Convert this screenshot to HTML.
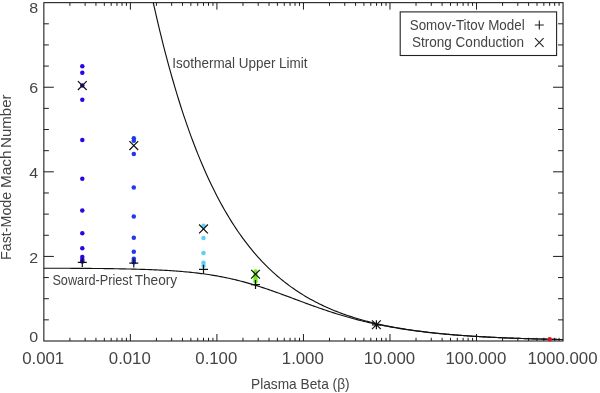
<!DOCTYPE html><html><head><meta charset="utf-8"><title>Plot</title>
<style>html,body{margin:0;padding:0;background:#fff}svg{display:block}text{font-family:"Liberation Sans",sans-serif;fill:#444}</style></head><body>
<svg width="600" height="393" viewBox="0 0 600 393">
<rect width="600" height="393" fill="#fff"/>
<defs><clipPath id="c"><rect x="43.85" y="2.65" width="519.20" height="338.35"/></clipPath></defs>
<path d="M69.90 341.00v-3.2M69.90 2.65v3.2M85.14 341.00v-3.2M85.14 2.65v3.2M95.95 341.00v-3.2M95.95 2.65v3.2M104.33 341.00v-3.2M104.33 2.65v3.2M111.19 341.00v-3.2M111.19 2.65v3.2M116.98 341.00v-3.2M116.98 2.65v3.2M122.00 341.00v-3.2M122.00 2.65v3.2M126.42 341.00v-3.2M126.42 2.65v3.2M130.38 341.00v-7M130.38 2.65v7M156.43 341.00v-3.2M156.43 2.65v3.2M171.67 341.00v-3.2M171.67 2.65v3.2M182.48 341.00v-3.2M182.48 2.65v3.2M190.87 341.00v-3.2M190.87 2.65v3.2M197.72 341.00v-3.2M197.72 2.65v3.2M203.51 341.00v-3.2M203.51 2.65v3.2M208.53 341.00v-3.2M208.53 2.65v3.2M212.96 341.00v-3.2M212.96 2.65v3.2M216.92 341.00v-7M216.92 2.65v7M242.97 341.00v-3.2M242.97 2.65v3.2M258.20 341.00v-3.2M258.20 2.65v3.2M269.01 341.00v-3.2M269.01 2.65v3.2M277.40 341.00v-3.2M277.40 2.65v3.2M284.25 341.00v-3.2M284.25 2.65v3.2M290.05 341.00v-3.2M290.05 2.65v3.2M295.06 341.00v-3.2M295.06 2.65v3.2M299.49 341.00v-3.2M299.49 2.65v3.2M303.45 341.00v-7M303.45 2.65v7M329.50 341.00v-3.2M329.50 2.65v3.2M344.74 341.00v-3.2M344.74 2.65v3.2M355.55 341.00v-3.2M355.55 2.65v3.2M363.93 341.00v-3.2M363.93 2.65v3.2M370.79 341.00v-3.2M370.79 2.65v3.2M376.58 341.00v-3.2M376.58 2.65v3.2M381.60 341.00v-3.2M381.60 2.65v3.2M386.02 341.00v-3.2M386.02 2.65v3.2M389.98 341.00v-7M389.98 2.65v7M416.03 341.00v-3.2M416.03 2.65v3.2M431.27 341.00v-3.2M431.27 2.65v3.2M442.08 341.00v-3.2M442.08 2.65v3.2M450.47 341.00v-3.2M450.47 2.65v3.2M457.32 341.00v-3.2M457.32 2.65v3.2M463.11 341.00v-3.2M463.11 2.65v3.2M468.13 341.00v-3.2M468.13 2.65v3.2M472.56 341.00v-3.2M472.56 2.65v3.2M476.52 341.00v-7M476.52 2.65v7M502.57 341.00v-3.2M502.57 2.65v3.2M517.80 341.00v-3.2M517.80 2.65v3.2M528.61 341.00v-3.2M528.61 2.65v3.2M537.00 341.00v-3.2M537.00 2.65v3.2M543.85 341.00v-3.2M543.85 2.65v3.2M549.65 341.00v-3.2M549.65 2.65v3.2M554.66 341.00v-3.2M554.66 2.65v3.2M559.09 341.00v-3.2M559.09 2.65v3.2M43.85 319.85h5M563.05 319.85h-5M43.85 298.71h5M563.05 298.71h-5M43.85 277.56h5M563.05 277.56h-5M43.85 256.41h10M563.05 256.41h-10M43.85 235.27h5M563.05 235.27h-5M43.85 214.12h5M563.05 214.12h-5M43.85 192.97h5M563.05 192.97h-5M43.85 171.82h10M563.05 171.82h-10M43.85 150.68h5M563.05 150.68h-5M43.85 129.53h5M563.05 129.53h-5M43.85 108.38h5M563.05 108.38h-5M43.85 87.24h10M563.05 87.24h-10M43.85 66.09h5M563.05 66.09h-5M43.85 44.94h5M563.05 44.94h-5M43.85 23.80h5M563.05 23.80h-5" stroke="#1c1c1c" stroke-width="1" fill="none"/>
<rect x="43.85" y="2.65" width="519.20" height="338.35" fill="none" stroke="#1e1e1e" stroke-width="1.1"/>
<g clip-path="url(#c)" fill="none" stroke="#111" stroke-width="1.15">
<path d="M145.96 -31.88 L147.69 -23.39 L149.42 -15.10 L151.15 -6.99 L152.88 0.93 L154.61 8.67 L156.34 16.24 L158.07 23.63 L159.80 30.85 L161.54 37.91 L163.27 44.81 L165.00 51.55 L166.73 58.14 L168.46 64.58 L170.19 70.87 L171.92 77.02 L173.65 83.03 L175.38 88.90 L177.11 94.64 L178.84 100.25 L180.57 105.73 L182.30 111.09 L184.03 116.32 L185.76 121.43 L187.50 126.43 L189.23 131.32 L190.96 136.09 L192.69 140.75 L194.42 145.31 L196.15 149.77 L197.88 154.12 L199.61 158.37 L201.34 162.53 L203.07 166.59 L204.80 170.56 L206.53 174.44 L208.26 178.23 L209.99 181.94 L211.72 185.56 L213.46 189.10 L215.19 192.55 L216.92 195.93 L218.65 199.24 L220.38 202.46 L222.11 205.62 L223.84 208.70 L225.57 211.71 L227.30 214.65 L229.03 217.53 L230.76 220.34 L232.49 223.09 L234.22 225.77 L235.95 228.39 L237.68 230.96 L239.42 233.46 L241.15 235.91 L242.88 238.30 L244.61 240.64 L246.34 242.92 L248.07 245.16 L249.80 247.34 L251.53 249.47 L253.26 251.55 L254.99 253.59 L256.72 255.58 L258.45 257.52 L260.18 259.42 L261.91 261.28 L263.64 263.09 L265.38 264.87 L267.11 266.60 L268.84 268.29 L270.57 269.95 L272.30 271.57 L274.03 273.15 L275.76 274.69 L277.49 276.20 L279.22 277.68 L280.95 279.12 L282.68 280.53 L284.41 281.90 L286.14 283.25 L287.87 284.56 L289.60 285.85 L291.34 287.10 L293.07 288.33 L294.80 289.53 L296.53 290.70 L298.26 291.85 L299.99 292.96 L301.72 294.06 L303.45 295.13 L305.18 296.17 L306.91 297.19 L308.64 298.19 L310.37 299.16 L312.10 300.11 L313.83 301.05 L315.56 301.95 L317.30 302.84 L319.03 303.71 L320.76 304.56 L322.49 305.39 L324.22 306.20 L325.95 306.99 L327.68 307.77 L329.41 308.52 L331.14 309.26 L332.87 309.99 L334.60 310.69 L336.33 311.38 L338.06 312.06 L339.79 312.71 L341.52 313.36 L343.26 313.99 L344.99 314.60 L346.72 315.20 L348.45 315.79 L350.18 316.36 L351.91 316.92 L353.64 317.47 L355.37 318.01 L357.10 318.53 L358.83 319.04 L360.56 319.54 L362.29 320.03 L364.02 320.51 L365.75 320.98 L367.48 321.43 L369.22 321.88 L370.95 322.31 L372.68 322.74 L374.41 323.15 L376.14 323.56 L377.87 323.96 L379.60 324.34 L381.33 324.72 L383.06 325.09 L384.79 325.46 L386.52 325.81 L388.25 326.16 L389.98 326.49 L391.71 326.82 L393.44 327.15 L395.18 327.46 L396.91 327.77 L398.64 328.07 L400.37 328.37 L402.10 328.65 L403.83 328.93 L405.56 329.21 L407.29 329.48 L409.02 329.74 L410.75 330.00 L412.48 330.25 L414.21 330.49 L415.94 330.73 L417.67 330.96 L419.40 331.19 L421.14 331.42 L422.87 331.63 L424.60 331.85 L426.33 332.06 L428.06 332.26 L429.79 332.46 L431.52 332.65 L433.25 332.84 L434.98 333.03 L436.71 333.21 L438.44 333.39 L440.17 333.56 L441.90 333.73 L443.63 333.89 L445.36 334.06 L447.10 334.21 L448.83 334.37 L450.56 334.52 L452.29 334.67 L454.02 334.81 L455.75 334.95 L457.48 335.09 L459.21 335.22 L460.94 335.36 L462.67 335.48 L464.40 335.61 L466.13 335.73 L467.86 335.85 L469.59 335.97 L471.32 336.08 L473.06 336.20 L474.79 336.31 L476.52 336.41 L478.25 336.52 L479.98 336.62 L481.71 336.72 L483.44 336.82 L485.17 336.91 L486.90 337.00 L488.63 337.10 L490.36 337.18 L492.09 337.27 L493.82 337.36 L495.55 337.44 L497.28 337.52 L499.02 337.60 L500.75 337.68 L502.48 337.75 L504.21 337.83 L505.94 337.90 L507.67 337.97 L509.40 338.04 L511.13 338.11 L512.86 338.17 L514.59 338.24 L516.32 338.30 L518.05 338.36 L519.78 338.42 L521.51 338.48 L523.24 338.54 L524.98 338.59 L526.71 338.65 L528.44 338.70 L530.17 338.75 L531.90 338.80 L533.63 338.85 L535.36 338.90 L537.09 338.95 L538.82 339.00 L540.55 339.04 L542.28 339.09 L544.01 339.13 L545.74 339.17 L547.47 339.22 L549.20 339.26 L550.94 339.30 L552.67 339.33 L554.40 339.37 L556.13 339.41 L557.86 339.45 L559.59 339.48 L561.32 339.52 L563.05 339.55"/>
<path d="M43.85 268.21 L45.58 268.21 L47.31 268.21 L49.04 268.22 L50.77 268.22 L52.50 268.23 L54.23 268.23 L55.96 268.24 L57.70 268.25 L59.43 268.25 L61.16 268.26 L62.89 268.27 L64.62 268.27 L66.35 268.28 L68.08 268.29 L69.81 268.30 L71.54 268.31 L73.27 268.31 L75.00 268.32 L76.73 268.33 L78.46 268.34 L80.19 268.36 L81.92 268.37 L83.66 268.38 L85.39 268.39 L87.12 268.40 L88.85 268.42 L90.58 268.43 L92.31 268.45 L94.04 268.46 L95.77 268.48 L97.50 268.50 L99.23 268.51 L100.96 268.53 L102.69 268.55 L104.42 268.57 L106.15 268.60 L107.88 268.62 L109.62 268.64 L111.35 268.67 L113.08 268.69 L114.81 268.72 L116.54 268.75 L118.27 268.78 L120.00 268.81 L121.73 268.84 L123.46 268.87 L125.19 268.91 L126.92 268.95 L128.65 268.98 L130.38 269.02 L132.11 269.07 L133.84 269.11 L135.58 269.16 L137.31 269.20 L139.04 269.25 L140.77 269.31 L142.50 269.36 L144.23 269.42 L145.96 269.48 L147.69 269.54 L149.42 269.61 L151.15 269.68 L152.88 269.75 L154.61 269.82 L156.34 269.90 L158.07 269.98 L159.80 270.06 L161.54 270.15 L163.27 270.24 L165.00 270.34 L166.73 270.44 L168.46 270.54 L170.19 270.65 L171.92 270.77 L173.65 270.88 L175.38 271.01 L177.11 271.14 L178.84 271.27 L180.57 271.41 L182.30 271.55 L184.03 271.70 L185.76 271.86 L187.50 272.02 L189.23 272.19 L190.96 272.37 L192.69 272.55 L194.42 272.74 L196.15 272.94 L197.88 273.14 L199.61 273.35 L201.34 273.57 L203.07 273.80 L204.80 274.04 L206.53 274.28 L208.26 274.53 L209.99 274.80 L211.72 275.07 L213.46 275.35 L215.19 275.64 L216.92 275.94 L218.65 276.25 L220.38 276.57 L222.11 276.89 L223.84 277.23 L225.57 277.58 L227.30 277.94 L229.03 278.31 L230.76 278.70 L232.49 279.09 L234.22 279.49 L235.95 279.90 L237.68 280.33 L239.42 280.76 L241.15 281.21 L242.88 281.66 L244.61 282.13 L246.34 282.60 L248.07 283.09 L249.80 283.59 L251.53 284.09 L253.26 284.61 L254.99 285.14 L256.72 285.67 L258.45 286.22 L260.18 286.77 L261.91 287.33 L263.64 287.90 L265.38 288.48 L267.11 289.06 L268.84 289.65 L270.57 290.25 L272.30 290.86 L274.03 291.47 L275.76 292.09 L277.49 292.71 L279.22 293.33 L280.95 293.96 L282.68 294.60 L284.41 295.23 L286.14 295.87 L287.87 296.52 L289.60 297.16 L291.34 297.80 L293.07 298.45 L294.80 299.10 L296.53 299.74 L298.26 300.39 L299.99 301.03 L301.72 301.67 L303.45 302.32 L305.18 302.95 L306.91 303.59 L308.64 304.22 L310.37 304.85 L312.10 305.48 L313.83 306.10 L315.56 306.72 L317.30 307.33 L319.03 307.94 L320.76 308.54 L322.49 309.13 L324.22 309.72 L325.95 310.31 L327.68 310.89 L329.41 311.46 L331.14 312.02 L332.87 312.58 L334.60 313.13 L336.33 313.68 L338.06 314.22 L339.79 314.75 L341.52 315.27 L343.26 315.78 L344.99 316.29 L346.72 316.79 L348.45 317.28 L350.18 317.77 L351.91 318.24 L353.64 318.71 L355.37 319.17 L357.10 319.63 L358.83 320.07 L360.56 320.51 L362.29 320.94 L364.02 321.37 L365.75 321.78 L367.48 322.19 L369.22 322.59 L370.95 322.98 L372.68 323.37 L374.41 323.75 L376.14 324.12 L377.87 324.48 L379.60 324.84 L381.33 325.19 L383.06 325.53 L384.79 325.87 L386.52 326.20 L388.25 326.52 L389.98 326.84 L391.71 327.15 L393.44 327.46 L395.18 327.75 L396.91 328.05 L398.64 328.33 L400.37 328.61 L402.10 328.89 L403.83 329.15 L405.56 329.42 L407.29 329.67 L409.02 329.93 L410.75 330.17 L412.48 330.41 L414.21 330.65 L415.94 330.88 L417.67 331.11 L419.40 331.33 L421.14 331.54 L422.87 331.76 L424.60 331.96 L426.33 332.17 L428.06 332.36 L429.79 332.56 L431.52 332.75 L433.25 332.93 L434.98 333.11 L436.71 333.29 L438.44 333.47 L440.17 333.64 L441.90 333.80 L443.63 333.96 L445.36 334.12 L447.10 334.28 L448.83 334.43 L450.56 334.58 L452.29 334.72 L454.02 334.86 L455.75 335.00 L457.48 335.14 L459.21 335.27 L460.94 335.40 L462.67 335.53 L464.40 335.65 L466.13 335.77 L467.86 335.89 L469.59 336.01 L471.32 336.12 L473.06 336.23 L474.79 336.34 L476.52 336.44 L478.25 336.55 L479.98 336.65 L481.71 336.75 L483.44 336.84 L485.17 336.94 L486.90 337.03 L488.63 337.12 L490.36 337.21 L492.09 337.29 L493.82 337.38 L495.55 337.46 L497.28 337.54 L499.02 337.62 L500.75 337.70 L502.48 337.77 L504.21 337.85 L505.94 337.92 L507.67 337.99 L509.40 338.06 L511.13 338.12 L512.86 338.19 L514.59 338.25 L516.32 338.31 L518.05 338.38 L519.78 338.43 L521.51 338.49 L523.24 338.55 L524.98 338.61 L526.71 338.66 L528.44 338.71 L530.17 338.77 L531.90 338.82 L533.63 338.87 L535.36 338.91 L537.09 338.96 L538.82 339.01 L540.55 339.05 L542.28 339.10 L544.01 339.14 L545.74 339.18 L547.47 339.22 L549.20 339.27 L550.94 339.30 L552.67 339.34 L554.40 339.38 L556.13 339.42 L557.86 339.45 L559.59 339.49 L561.32 339.52 L563.05 339.56"/>
</g>
<circle cx="82.3" cy="66.2" r="2.25" fill="#2808e0"/>
<circle cx="82.3" cy="72.8" r="2.25" fill="#2808e0"/>
<circle cx="82.3" cy="85.6" r="2.25" fill="#2808e0"/>
<circle cx="82.3" cy="99.8" r="2.25" fill="#2808e0"/>
<circle cx="82.3" cy="140.1" r="2.25" fill="#2808e0"/>
<circle cx="82.3" cy="178.7" r="2.25" fill="#2808e0"/>
<circle cx="82.3" cy="210.4" r="2.25" fill="#2808e0"/>
<circle cx="82.3" cy="233.2" r="2.25" fill="#2808e0"/>
<circle cx="82.3" cy="248.2" r="2.25" fill="#2808e0"/>
<circle cx="82.3" cy="257.0" r="2.25" fill="#2808e0"/>
<circle cx="82.3" cy="259.8" r="2.25" fill="#2808e0"/>
<circle cx="82.3" cy="261.5" r="2.25" fill="#2808e0"/>
<circle cx="133.8" cy="138.3" r="2.25" fill="#2038f0"/>
<circle cx="133.8" cy="140.8" r="2.25" fill="#2038f0"/>
<circle cx="133.8" cy="154.1" r="2.25" fill="#2038f0"/>
<circle cx="133.8" cy="187.4" r="2.25" fill="#2038f0"/>
<circle cx="133.8" cy="216.5" r="2.25" fill="#2038f0"/>
<circle cx="133.8" cy="237.7" r="2.25" fill="#2038f0"/>
<circle cx="133.8" cy="251.8" r="2.25" fill="#2038f0"/>
<circle cx="133.8" cy="258.7" r="2.25" fill="#2038f0"/>
<circle cx="133.8" cy="260.7" r="2.25" fill="#2038f0"/>
<circle cx="133.8" cy="262.2" r="2.25" fill="#2038f0"/>
<circle cx="203.5" cy="225.7" r="2.25" fill="#5cd0f0"/>
<circle cx="203.5" cy="238.1" r="2.25" fill="#5cd0f0"/>
<circle cx="203.5" cy="252.9" r="2.25" fill="#5cd0f0"/>
<circle cx="203.5" cy="262.7" r="2.25" fill="#5cd0f0"/>
<circle cx="203.5" cy="265.7" r="2.25" fill="#5cd0f0"/>
<circle cx="255.5" cy="271.6" r="2.25" fill="#6cec18"/>
<circle cx="255.5" cy="274.0" r="2.25" fill="#6cec18"/>
<circle cx="255.5" cy="276.5" r="2.25" fill="#6cec18"/>
<circle cx="255.5" cy="279.0" r="2.25" fill="#6cec18"/>
<circle cx="255.5" cy="281.4" r="2.25" fill="#6cec18"/>
<circle cx="549.7" cy="339.3" r="2.25" fill="#e01020"/>
<path d="M77.9 81.2l8.8 8.8M77.9 90.0l8.8 -8.8M77.8 262.4h9.0M82.3 257.9v9.0M129.4 141.2l8.8 8.8M129.4 150.0l8.8 -8.8M129.3 263.1h9.0M133.8 258.6v9.0M199.1 224.5l8.8 8.8M199.1 233.3l8.8 -8.8M199.0 269.3h9.0M203.5 264.8v9.0M251.1 269.8l8.8 8.8M251.1 278.6l8.8 -8.8M251.0 284.6h9.0M255.5 280.1v9.0M372.0 320.4l8.8 8.8M372.0 329.2l8.8 -8.8M371.9 324.8h9.0M376.4 320.3v9.0" stroke="#111" stroke-width="1.2" fill="none"/>
<rect x="400.2" y="11.9" width="156.4" height="43.6" fill="#fff" stroke="#222" stroke-width="1.1"/>
<text x="409.7" y="29.9" font-size="15" textLength="115.0" lengthAdjust="spacingAndGlyphs">Somov-Titov Model</text>
<text x="412.0" y="47.4" font-size="15" textLength="112.0" lengthAdjust="spacingAndGlyphs">Strong Conduction</text>
<path d="M534.8 25h9M539.3 20.5v9M535 38.2l8.6 8.6M535 46.8l8.6 -8.6" stroke="#222" stroke-width="1.1" fill="none"/>
<text x="172.3" y="68.4" font-size="15" textLength="135.2" lengthAdjust="spacingAndGlyphs">Isothermal Upper Limit</text>
<text x="52.4" y="284.7" font-size="15" textLength="79.8" lengthAdjust="spacingAndGlyphs">Soward-Priest</text>
<text x="134.7" y="284.7" font-size="15" textLength="42.5" lengthAdjust="spacingAndGlyphs">Theory</text>
<text x="22.2" y="364.2" font-size="16" textLength="42.0" lengthAdjust="spacingAndGlyphs">0.001</text>
<text x="108.8" y="364.2" font-size="16" textLength="42.0" lengthAdjust="spacingAndGlyphs">0.010</text>
<text x="195.3" y="364.2" font-size="16" textLength="42.0" lengthAdjust="spacingAndGlyphs">0.100</text>
<text x="281.8" y="364.2" font-size="16" textLength="42.0" lengthAdjust="spacingAndGlyphs">1.000</text>
<text x="363.7" y="364.2" font-size="16" textLength="51.4" lengthAdjust="spacingAndGlyphs">10.000</text>
<text x="445.5" y="364.2" font-size="16" textLength="60.8" lengthAdjust="spacingAndGlyphs">100.000</text>
<text x="527.4" y="364.2" font-size="16" textLength="70.1" lengthAdjust="spacingAndGlyphs">1000.000</text>
<text x="29.2" y="341.5" font-size="15.2" textLength="8.9" lengthAdjust="spacingAndGlyphs">0</text>
<text x="29.2" y="262.5" font-size="15.2" textLength="8.9" lengthAdjust="spacingAndGlyphs">2</text>
<text x="29.2" y="177.9" font-size="15.2" textLength="8.9" lengthAdjust="spacingAndGlyphs">4</text>
<text x="29.2" y="93.3" font-size="15.2" textLength="8.9" lengthAdjust="spacingAndGlyphs">6</text>
<text x="29.2" y="13.4" font-size="15.2" textLength="8.9" lengthAdjust="spacingAndGlyphs">8</text>
<text x="251.0" y="388.8" font-size="15" textLength="98.6" lengthAdjust="spacingAndGlyphs">Plasma Beta (β)</text>
<text transform="translate(11.1 260.0) rotate(-90)" font-size="15.5" textLength="68.2" lengthAdjust="spacingAndGlyphs">Fast-Mode</text>
<text transform="translate(11.1 188.1) rotate(-90)" font-size="15.5" textLength="37.8" lengthAdjust="spacingAndGlyphs">Mach</text>
<text transform="translate(11.1 147.9) rotate(-90)" font-size="15.5" textLength="53.5" lengthAdjust="spacingAndGlyphs">Number</text>
</svg></body></html>
